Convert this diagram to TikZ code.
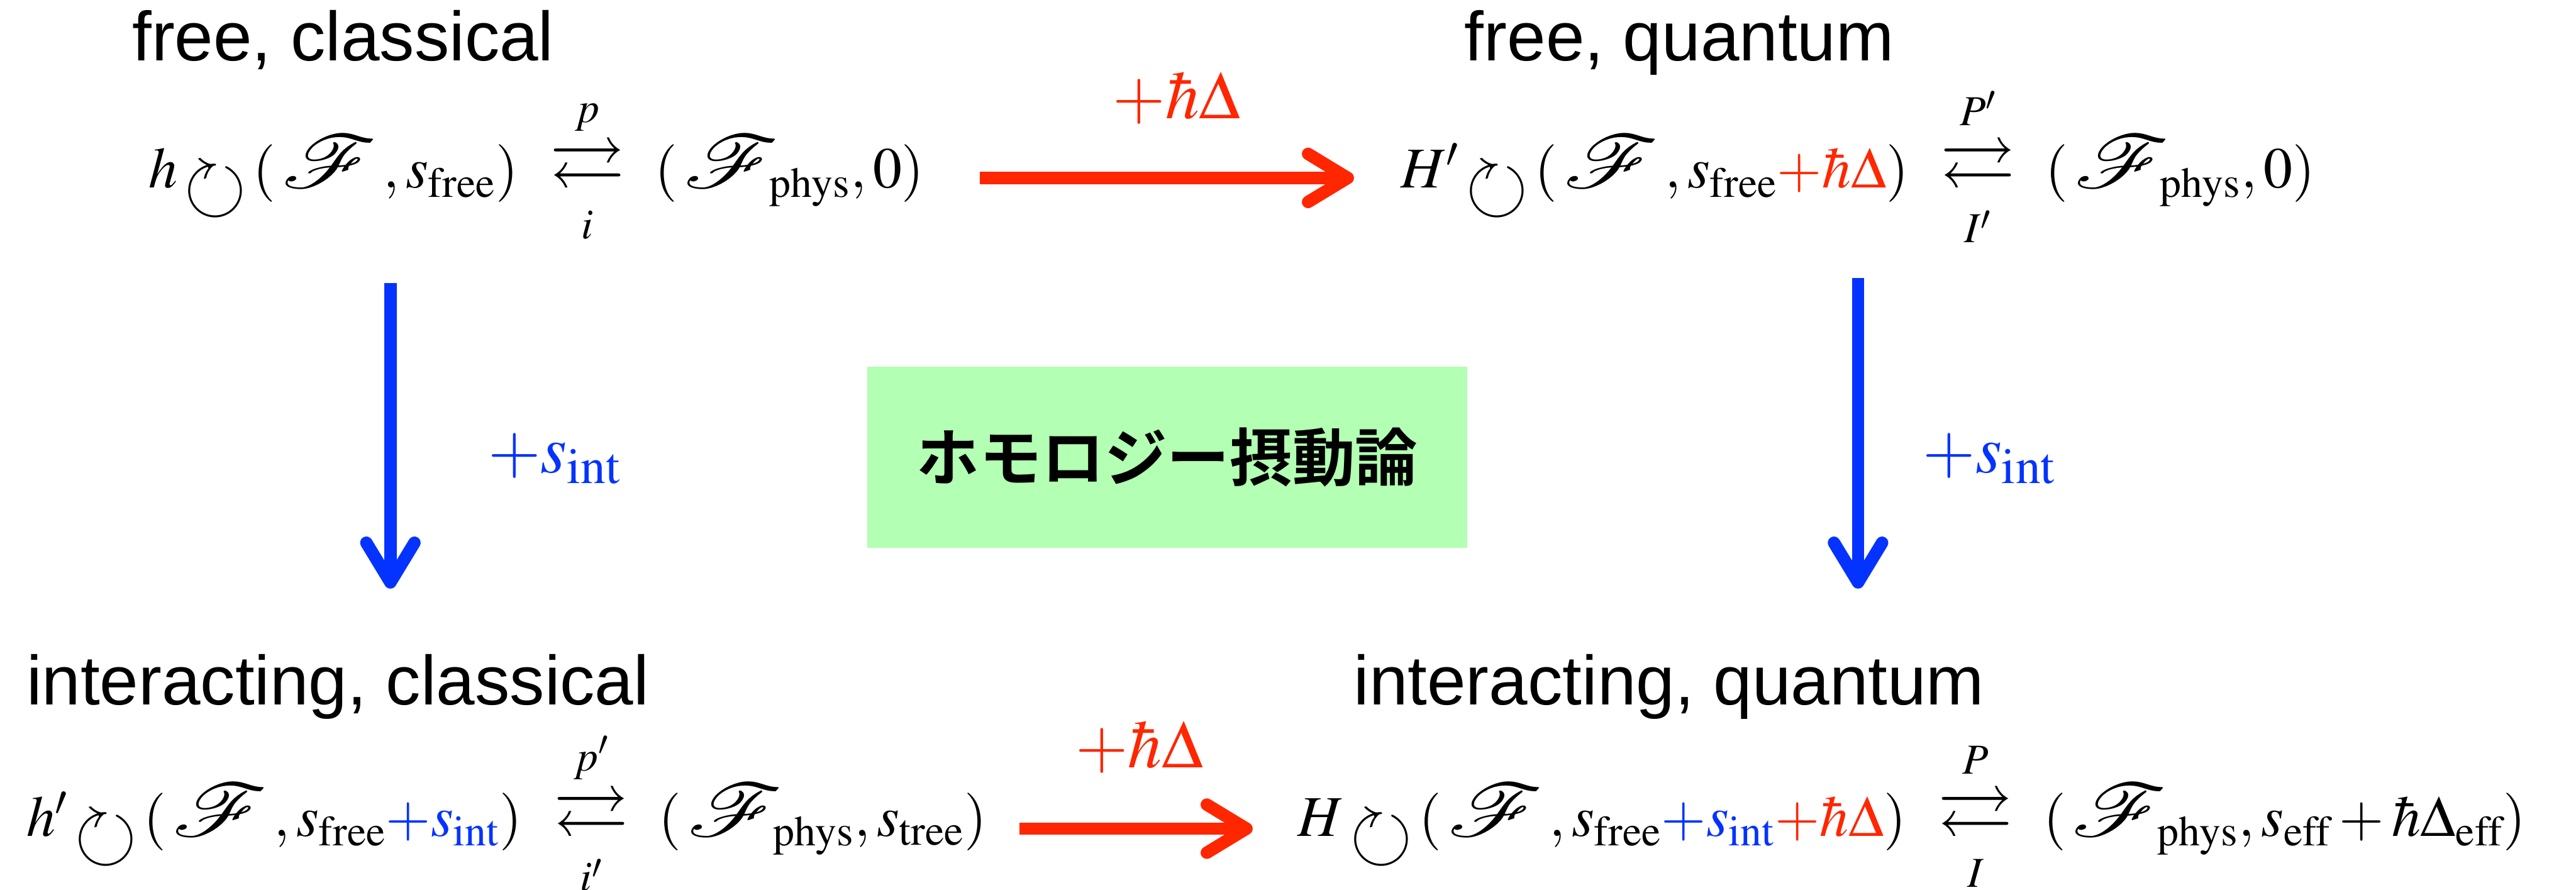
\documentclass[tikz,border=0pt]{standalone}
\usepackage{amsmath,amssymb}
\usepackage{mathptmx}
\usepackage{mathrsfs}
\usepackage{graphicx}
\usepackage[no-math]{fontspec}
\usepackage{xcolor}
\usetikzlibrary{arrows.meta,positioning}
\DeclareFontFamily{U}{rsfs}{\skewchar\font127 }
\DeclareFontShape{U}{rsfs}{m}{n}{<-6>rsfs5<6-8>rsfs7<8->rsfs10}{}
\DeclareFontFamily{U}{msa}{}
\DeclareFontShape{U}{msa}{m}{n}{<-6>msam5<6-8>msam7<8->msam10}{}
\newfontfamily\titlefont{Liberation Sans}
\newfontfamily\jpfont{Noto Sans CJK JP Bold}
\definecolor{quantred}{HTML}{FF2600}
\definecolor{interblue}{HTML}{0433FF}
\definecolor{boxgreen}{HTML}{B3FFB3}
\newcommand{\acts}{\,\raisebox{-0.40em}{\scalebox{1.4}{$\circlearrowright$}}\,}
\newcommand{\fF}{\mathord{\scalebox{1.6}[1.3]{$\mathscr{F}$}}}
\newcommand{\fphys}{\fF_{\kern-5pt\mathrm{phys}}}
\newcommand{\pairarrows}{\mathrel{\scalebox{1.3}{$\rightleftarrows$}}}
\newcommand{\hd}{\hbar\Delta}
\tikzset{
  heading/.style={anchor=base west,inner sep=0pt,font=\titlefont\fontsize{35}{42}\selectfont},
  formula/.style={anchor=base west,inner sep=0pt,font=\fontsize{29}{35}\selectfont},
  shiftlabel/.style={inner sep=0pt,font=\fontsize{34}{38}\selectfont},
  qarrow/.style={-{Straight Barb[length=7mm,width=8.5mm,round]},line width=2.2mm,quantred},
  iarrow/.style={-{Straight Barb[length=7mm,width=8.5mm,round]},line width=2.2mm,interblue},
  methodbox/.style={fill=boxgreen,minimum width=10.6cm,minimum height=3.2cm,inner sep=0pt,font=\jpfont\fontsize{31.5}{36}\selectfont}
}

\begin{document}
\begin{tikzpicture}
\useasboundingbox (0,0) rectangle (45.53,-15.72);
\node[heading] (fc) at (2.33,-1.07) {free, classical};
\node[heading] (fq) at (25.88,-1.07) {free, quantum};
\node[heading] (ic) at (0.46,-12.46) {interacting, classical};
\node[heading] (iq) at (23.92,-12.46) {interacting, quantum};
\node[formula] (tl) at (2.62,-3.32) {$h\acts(\,\fF\,,s_{\mathrm{free}})\;\,\underset{i}{\overset{p}{\pairarrows}}\ (\,\fphys,0)$};
\node[formula] (tr) at (24.75,-3.32) {$H'\acts(\,\fF\,,s_{\mathrm{free}}\textcolor{quantred}{{+}\hd})\;\,\underset{I'}{\overset{P'}{\pairarrows}}\ (\,\fphys,0)$};
\node[formula] (bl) at (0.46,-14.78) {$h'\acts(\,\fF\,,s_{\mathrm{free}}\textcolor{interblue}{{+}s_{\mathrm{int}}})\;\,\underset{i'}{\overset{p'}{\pairarrows}}\ (\,\fphys,s_{\mathrm{tree}})$};
\node[formula] (br) at (22.93,-14.78) {$H\acts(\,\fF\,,s_{\mathrm{free}}\textcolor{interblue}{{+}s_{\mathrm{int}}}\textcolor{quantred}{{+}\hd})\;\,\underset{I}{\overset{P}{\pairarrows}}\ (\,\fphys,s_{\mathrm{eff}}+\hbar\Delta_{\mathrm{eff}})$};
\node[methodbox] (hpt) at (20.63,-8.08) {ホモロジー摂動論};
\coordinate (lx) at (6.90,0);
\coordinate (rx) at (32.84,0);
\coordinate (qs1) at (17.32,0);
\coordinate (qs2) at (18.02,0);
\draw[qarrow,shorten >=0.82cm] ([yshift=1mm]tl.mid east -| qs1) -- ([yshift=1mm]tr.mid west);
\draw[qarrow,shorten >=0.79cm] ([yshift=0.6mm]bl.mid east -| qs2) -- ([yshift=0.6mm]br.mid west);
\draw[iarrow,shorten <=0.67cm,shorten >=1.16cm] (tl.south -| lx) -- (ic.north -| lx);
\draw[iarrow,shorten <=0.52cm,shorten >=1.16cm] (tr.south -| rx) -- (iq.north -| rx);
\node[shiftlabel,anchor=base,text=quantred] (hq1) at (20.80,-2.10) {$+\hd$};
\node[shiftlabel,anchor=base,text=quantred] (hq2) at (20.14,-13.57) {$+\hd$};
\node[shiftlabel,anchor=base west,text=interblue] (si1) at (8.62,-8.35) {$+s_{\mathrm{int}}$};
\node[shiftlabel,anchor=base west,text=interblue] (si2) at (33.98,-8.35) {$+s_{\mathrm{int}}$};
\end{tikzpicture}
\end{document}
